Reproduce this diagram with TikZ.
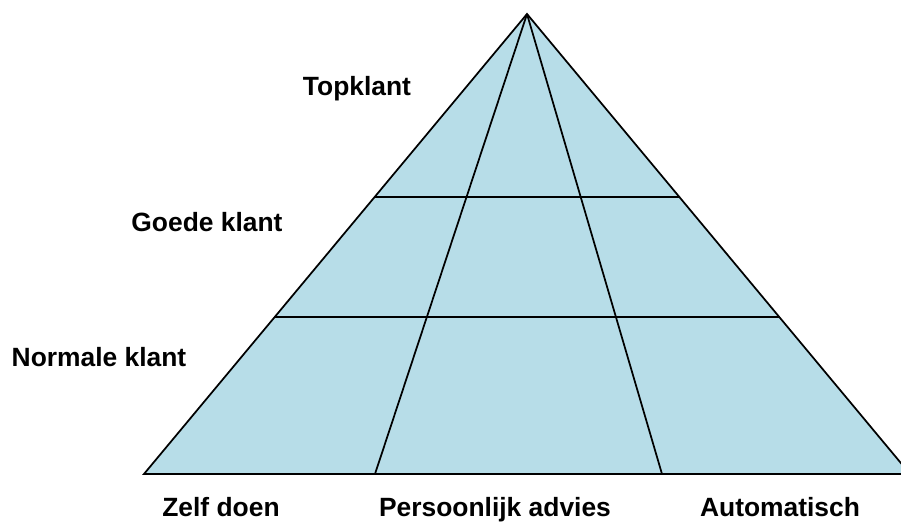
\documentclass[tikz,border=0pt]{standalone}
\usepackage{fontspec}
\setmainfont{Liberation Sans}
\usetikzlibrary{calc}
\definecolor{pyrblue}{RGB}{183,221,232}
\tikzset{lbl/.style={font=\fontsize{19.8}{22}\selectfont\bfseries,inner sep=0pt,anchor=base}}

\begin{document}
\begin{tikzpicture}[x=0.75pt,y=-0.75pt,line width=1.3pt]
\useasboundingbox (0,0) rectangle (901,524);
\clip (0,0) rectangle (901,524);
\coordinate (top) at (527,14);
\coordinate (bl) at (144,474);
\coordinate (br) at (910,474);
\coordinate (b1) at (375,474);
\coordinate (b2) at (662,474);
\fill[pyrblue] (top) -- (bl) -- (br) -- cycle;
\foreach \t in {0.398,0.659} {
	\draw ($(top)!\t!(bl)$) -- ($(top)!\t!(br)$);
}
\draw (top) -- (b1) (top) -- (b2);
\draw[line join=miter] (top) -- (bl) -- (br) -- cycle;
\node[lbl] (topklant) at (357,96) {Topklant};
\node[lbl] (goede) at (207,232) {Goede klant};
\node[lbl] (normale) at (99,367) {Normale klant};
\node[lbl] (zelf) at (221,517) {Zelf doen};
\node[lbl] (advies) at (495,517) {Persoonlijk advies};
\node[lbl] (auto) at (780,517) {Automatisch};
\end{tikzpicture}
\end{document}
